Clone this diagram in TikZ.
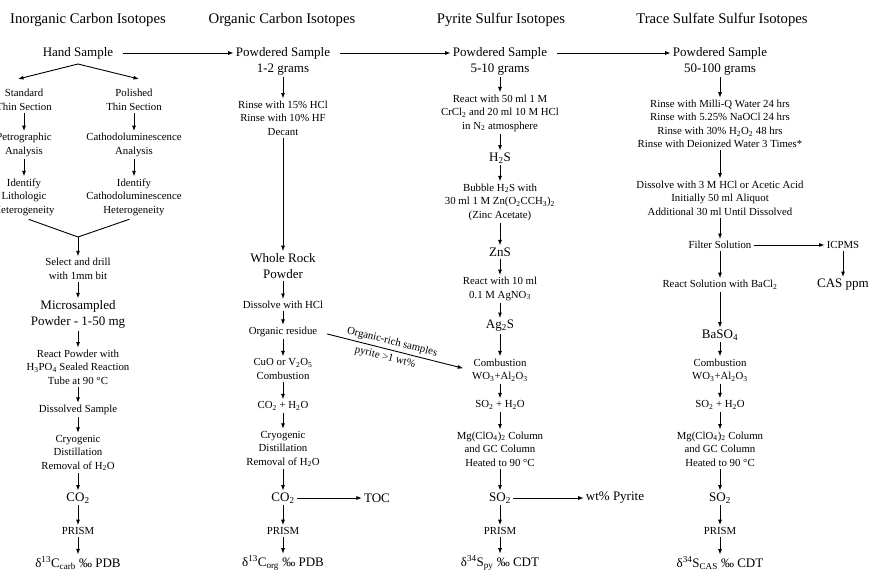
\documentclass[tikz,border=0pt]{standalone}
\usepackage{fontspec}
\setmainfont{Liberation Serif}
\usetikzlibrary{arrows.meta,positioning,calc}

\newcommand\headfont{\fontsize{14.7}{17}\selectfont}
\newcommand\largefont{\fontsize{13}{16}\selectfont}
\newcommand\stepfont{\fontsize{10.8}{13.5}\selectfont}
\newcommand\chemsub[1]{\textsubscript{#1}}

\begin{document}
\begin{tikzpicture}[
    x=1pt, y=-1pt,
    >=Latex,
    heading/.style={font=\headfont, inner sep=2pt},
    stage/.style={
        align=center,
        inner sep=2pt,
        font=\stepfont
    },
    sample/.style={
        align=center,
        inner sep=2pt,
        font=\largefont
    },
    arrow/.style={-{Latex[length=5.5pt,width=4pt]}, line width=0.9pt},
    link/.style={line width=0.9pt},
    note/.style={font=\stepfont, sloped, inner sep=1pt}
]

\useasboundingbox (0,0) rectangle (871,570);

% ============================================================
% Column headings
% ============================================================

\node[heading] (headinorg) at (88,20) {Inorganic Carbon Isotopes};
\node[heading] (headorg)   at (282,20) {Organic Carbon Isotopes};
\node[heading] (headpy)    at (501,20) {Pyrite Sulfur Isotopes};
\node[heading] (headcas)   at (722,20) {Trace Sulfate Sulfur Isotopes};

% ============================================================
% Inorganic carbon
% ============================================================

\node[sample] (hand) at (78,53) {Hand Sample};

\coordinate (split)  at (78,64);
\coordinate (stdtip) at (18,79);
\coordinate (poltip) at (139,79);

\node[stage] (std)   at (24,100)  {Standard\\Thin Section};
\node[stage] (pol)   at (134,100) {Polished\\Thin Section};
\node[stage] (petro) at (24,145)  {Petrographic\\Analysis};
\node[stage] (clan)  at (134,145) {Cathodoluminescence\\Analysis};
\node[stage] (litho) at (24,197)  {Identify\\Lithologic\\Heterogeneity};
\node[stage] (clhet) at (134,197) {Identify\\Cathodoluminescence\\Heterogeneity};

\coordinate (join) at (78,237);

\node[stage] (drill) at (78,269) {Select and drill\\with 1mm bit};
\node[sample] (micro) at (78,314.5) {Microsampled\\Powder - 1-50 mg};
\node[stage] (phos) at (78,367)
    {React Powder with\\H\chemsub{3}PO\chemsub{4} Sealed Reaction\\Tube at 90 °C};
\node[stage] (dissolved) at (78,410) {Dissolved Sample};
\node[stage] (cryocarb) at (78,453)
    {Cryogenic\\Distillation\\Removal of H\chemsub{2}O};
\node[sample] (co2carb) at (78,498) {CO\chemsub{2}};
\node[stage] (prismcarb) at (78,531) {PRISM};
\node[sample] (dcarb) at (78,563)
    {δ\textsuperscript{13}C\chemsub{carb} ‰ PDB};

\draw[arrow] (split) -- (stdtip);
\draw[arrow] (split) -- (poltip);
\draw[arrow] (std) -- (petro);
\draw[arrow] (petro) -- (litho);
\draw[arrow] (pol) -- (clan);
\draw[arrow] (clan) -- (clhet);

% the two thin-section paths come together before drilling
\draw[link, shorten <=5pt, shorten >=5pt]
    (litho.south) -- (join) -- (clhet.south);
\draw[arrow] (join) -- (drill);

\draw[arrow] (drill) -- (micro);
\draw[arrow] (micro) -- (phos);
\draw[arrow] (phos) -- (dissolved);
\draw[arrow] (dissolved) -- (cryocarb);
\draw[arrow] (cryocarb) -- (co2carb);
\draw[arrow] (co2carb) -- (prismcarb);
\draw[arrow] (prismcarb) -- (dcarb);

% ============================================================
% Organic carbon
% ============================================================

\node[sample] (pow2) at (283,61) {Powdered Sample\\1-2 grams};
\node[stage] (rinse2) at (283,118)
    {Rinse with 15\% HCl\\Rinse with 10\% HF\\Decant};
\node[sample] (whole) at (283,266) {Whole Rock\\Powder};
\node[stage] (dissolve2) at (283,305) {Dissolve with HCl};
\node[stage] (orgres) at (283,332) {Organic residue};
\node[stage] (cuo) at (283,369)
    {CuO or V\chemsub{2}O\chemsub{5}\\Combustion};
\node[stage] (gasorg) at (283,406) {CO\chemsub{2} + H\chemsub{2}O};
\node[stage] (cryoorg) at (283,449)
    {Cryogenic\\Distillation\\Removal of H\chemsub{2}O};
\node[sample] (co2org) at (283,498) {CO\chemsub{2}};
\node[sample] (toc) at (377,498) {TOC};
\node[stage] (prismorg) at (283,531) {PRISM};
\node[sample] (dorg) at (283,563)
    {δ\textsuperscript{13}C\chemsub{org} ‰ PDB};

\draw[arrow] (pow2) -- (rinse2);
\draw[arrow] (rinse2) -- (whole);
\draw[arrow] (whole) -- (dissolve2);
\draw[arrow] (dissolve2) -- (orgres);
\draw[arrow] (orgres) -- (cuo);
\draw[arrow] (cuo) -- (gasorg);
\draw[arrow] (gasorg) -- (cryoorg);
\draw[arrow] (cryoorg) -- (co2org);
\draw[arrow] (co2org) -- (toc);
\draw[arrow] (co2org) -- (prismorg);
\draw[arrow] (prismorg) -- (dorg);

% ============================================================
% Pyrite sulfur
% ============================================================

\node[sample] (pow3) at (500,61) {Powdered Sample\\5-10 grams};
\node[stage] (chrome) at (500,113)
    {React with 50 ml 1 M\\CrCl\chemsub{2} and 20 ml 10 M HCl\\in N\chemsub{2} atmosphere};
\node[sample] (h2s) at (500,158) {H\chemsub{2}S};
\node[stage] (bubble) at (500,202)
    {Bubble H\chemsub{2}S with\\30 ml 1 M Zn(O\chemsub{2}CCH\chemsub{3})\chemsub{2}\\(Zinc Acetate)};
\node[sample] (zns) at (500,252) {ZnS};
\node[stage] (silver) at (500,289) {React with 10 ml\\0.1 M AgNO\chemsub{3}};
\node[sample] (ag2s) at (500,326) {Ag\chemsub{2}S};
\node[stage] (combpy) at (500,370)
    {Combustion\\WO\chemsub{3}+Al\chemsub{2}O\chemsub{3}};
\node[stage] (gaspy) at (500,405) {SO\chemsub{2} + H\chemsub{2}O};
\node[stage] (columnpy) at (500,449)
    {Mg(ClO\chemsub{4})\chemsub{2} Column\\and GC Column\\Heated to 90 °C};
\node[sample] (so2py) at (500,498) {SO\chemsub{2}};
\node[sample] (wtpy) at (615,498) {wt\% Pyrite};
\node[stage] (prismpy) at (500,531) {PRISM};
\node[sample] (dpy) at (500,563)
    {δ\textsuperscript{34}S\chemsub{py} ‰ CDT};

\draw[arrow] (pow3) -- (chrome);
\draw[arrow] (chrome) -- (h2s);
\draw[arrow] (h2s) -- (bubble);
\draw[arrow] (bubble) -- (zns);
\draw[arrow] (zns) -- (silver);
\draw[arrow] (silver) -- (ag2s);
\draw[arrow] (ag2s) -- (combpy);
\draw[arrow] (combpy) -- (gaspy);
\draw[arrow] (gaspy) -- (columnpy);
\draw[arrow] (columnpy) -- (so2py);
\draw[arrow] (so2py) -- (wtpy);
\draw[arrow] (so2py) -- (prismpy);
\draw[arrow] (prismpy) -- (dpy);

% organic-rich samples go straight to combustion
\draw[arrow, shorten <=8pt, shorten >=7pt] (orgres.east) -- (combpy.west)
    node[note, above=1.5pt, pos=0.47] {Organic-rich samples}
    node[note, below=2.5pt, pos=0.45] {pyrite >1 wt\%};

% ============================================================
% Trace sulfate sulfur
% ============================================================

\node[sample] (pow4) at (720,61) {Powdered Sample\\50-100 grams};
\node[stage] (rinse4) at (720,124)
    {Rinse with Milli-Q Water 24 hrs\\
     Rinse with 5.25\% NaOCl 24 hrs\\
     Rinse with 30\% H\chemsub{2}O\chemsub{2} 48 hrs\\
     Rinse with Deionized Water 3 Times*};
\node[stage] (dissolve4) at (720,198)
    {Dissolve with 3 M HCl or Acetic Acid\\
     Initially 50 ml Aliquot\\
     Additional 30 ml Until Dissolved};
\node[stage] (filter) at (720,245) {Filter Solution};
\node[stage] (icpms) at (843,245) {ICPMS};
\node[sample] (casppm) at (843,285) {CAS ppm};
\node[stage] (barium) at (720,285) {React Solution with BaCl\chemsub{2}};
\node[sample] (baso4) at (720,335) {BaSO\chemsub{4}};
\node[stage] (combcas) at (720,370)
    {Combustion\\WO\chemsub{3}+Al\chemsub{2}O\chemsub{3}};
\node[stage] (gascas) at (720,405) {SO\chemsub{2} + H\chemsub{2}O};
\node[stage] (columncas) at (720,449)
    {Mg(ClO\chemsub{4})\chemsub{2} Column\\and GC Column\\Heated to 90 °C};
\node[sample] (so2cas) at (720,498) {SO\chemsub{2}};
\node[stage] (prismcas) at (720,531) {PRISM};
\node[sample] (dcas) at (720,563)
    {δ\textsuperscript{34}S\chemsub{CAS} ‰ CDT};

\draw[arrow] (pow4) -- (rinse4);
\draw[arrow] (rinse4) -- (dissolve4);
\draw[arrow] (dissolve4) -- (filter);
\draw[arrow] (filter) -- (icpms);
\draw[arrow] (icpms) -- (casppm);
\draw[arrow] (filter) -- (barium);
\draw[arrow] (barium) -- (baso4);
\draw[arrow] (baso4) -- (combcas);
\draw[arrow] (combcas) -- (gascas);
\draw[arrow] (gascas) -- (columncas);
\draw[arrow] (columncas) -- (so2cas);
\draw[arrow] (so2cas) -- (prismcas);
\draw[arrow] (prismcas) -- (dcas);

% ============================================================
% Sample hand-off along the top row
% ============================================================

\draw[arrow, shorten <=8pt] (hand.east) -- (hand.east -| pow2.west);
\draw[arrow, shorten <=8pt] (pow2.east |- hand.east) -- (pow3.west |- hand.east);
\draw[arrow, shorten <=8pt] (pow3.east |- hand.east) -- (pow4.west |- hand.east);

\end{tikzpicture}
\end{document}
